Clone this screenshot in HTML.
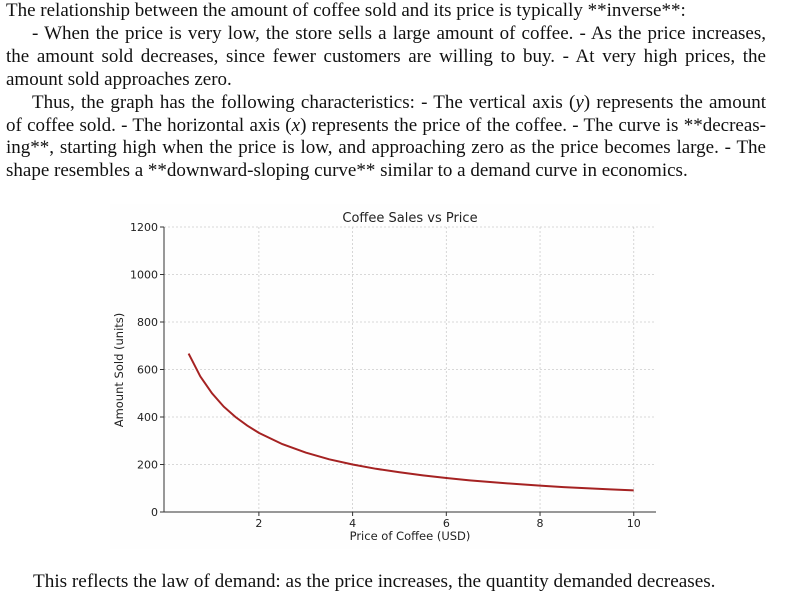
<!DOCTYPE html>
<html><head><meta charset="utf-8"><style>
body{margin:0;width:800px;height:601px;background:#fff;position:relative;overflow:hidden;font-family:"Liberation Serif",serif;color:#111}
.ln{position:absolute;left:6px;width:760px;font-size:19px;line-height:22px;white-space:nowrap;text-align:justify;text-align-last:justify}
.ln.i{left:32px;width:734px}
.ln.n{text-align-last:left}
svg{position:absolute;left:0;top:0}
</style></head><body>
<div>
<div class="ln n" style="top:0px">The relationship between the amount of coffee sold and its price is typically **inverse**:</div>
<div class="ln i" style="top:22.9px">- When the price is very low, the store sells a large amount of coffee. - As the price increases,</div>
<div class="ln" style="top:45.8px">the amount sold decreases, since fewer customers are willing to buy. - At very high prices, the</div>
<div class="ln n" style="top:68.7px">amount sold approaches zero.</div>
<div class="ln i" style="top:91.6px">Thus, the graph has the following characteristics: - The vertical axis (<i>y</i>) represents the amount</div>
<div class="ln" style="top:114.5px">of coffee sold. - The horizontal axis (<i>x</i>) represents the price of the coffee. - The curve is **decreas-</div>
<div class="ln" style="top:137.4px">ing**, starting high when the price is low, and approaching zero as the price becomes large. - The</div>
<div class="ln n" style="top:160.3px">shape resembles a **downward-sloping curve** similar to a demand curve in economics.</div>
</div>
<div class="ln n" style="top:571px;left:33px;font-size:19.2px">This reflects the law of demand: as the price increases, the quantity demanded decreases.</div>
<svg id="chart" width="800" height="601" font-family="'DejaVu Sans',sans-serif"></svg>
<script>
const prices=[0.5,0.75,1,1.25,1.5,1.75,2,2.5,3,3.5,4,4.5,5,5.5,6,6.5,7,7.5,8,8.5,9,9.5,10];
const amounts=[667,571,500,444,400,364,333,286,250,222,200,182,167,154,143,133,125,118,111,105,100,95,91];
const xTicks=[2,4,6,8,10];
const yTicks=[0,200,400,600,800,1000,1200];
const X0=164,X1=656,Y0=512,Y1=227,xmin=-0.025,xmax=10.475,ymax=1200;
const sx=v=>X0+(v-xmin)/(xmax-xmin)*(X1-X0);
const sy=v=>Y0-v/ymax*(Y0-Y1);
const svg=document.getElementById('chart');const NS='http://www.w3.org/2000/svg';
function mk(t,a,p){const e=document.createElementNS(NS,t);for(const k in a)e.setAttribute(k,a[k]);(p||svg).appendChild(e);return e;}
const bg=mk('rect',{x:110,y:204,width:550,height:345,fill:'#fefefe'});


yTicks.forEach(v=>{
 const g=mk('line',{x1:X0,x2:X1,y1:sy(v),y2:sy(v),stroke:'#ccc','stroke-width':0.8,'stroke-dasharray':'2,2'});
 
 
 mk('line',{x1:X0-4,x2:X0,y1:sy(v),y2:sy(v),stroke:'#333'});
 const t=mk('text',{x:X0-6,y:sy(v)+4,'text-anchor':'end','font-size':11,fill:'#222'});t.textContent=v;
 
 
});
xTicks.forEach(v=>{
 const g=mk('line',{x1:sx(v),x2:sx(v),y1:Y1,y2:Y0,stroke:'#ccc','stroke-width':0.8,'stroke-dasharray':'2,2'});
 
 
 mk('line',{x1:sx(v),x2:sx(v),y1:Y0,y2:Y0+4,stroke:'#333'});
 const t=mk('text',{x:sx(v),y:Y0+15,'text-anchor':'middle','font-size':11,fill:'#222'});t.textContent=v;
 
 
});
const ax=mk('path',{d:`M${X0},${Y1}V${Y0}H${X1}`,fill:'none',stroke:'#333','stroke-width':1});


const line=mk('path',{d:prices.map((p,i)=>(i?'L':'M')+sx(p).toFixed(1)+','+sy(amounts[i]).toFixed(1)).join(''),fill:'none',stroke:'#a52222','stroke-width':2});


const tt=mk('text',{x:410,y:222,'text-anchor':'middle','font-size':13,fill:'#222'});tt.textContent='Coffee Sales vs Price';


const xl=mk('text',{x:410,y:540,'text-anchor':'middle','font-size':11.5,fill:'#222'});xl.textContent='Price of Coffee (USD)';


const yl=mk('text',{x:0,y:0,'text-anchor':'middle','font-size':11.5,fill:'#222',transform:'translate(123,370) rotate(-90)'});yl.textContent='Amount Sold (units)';


</script>
</body></html>
